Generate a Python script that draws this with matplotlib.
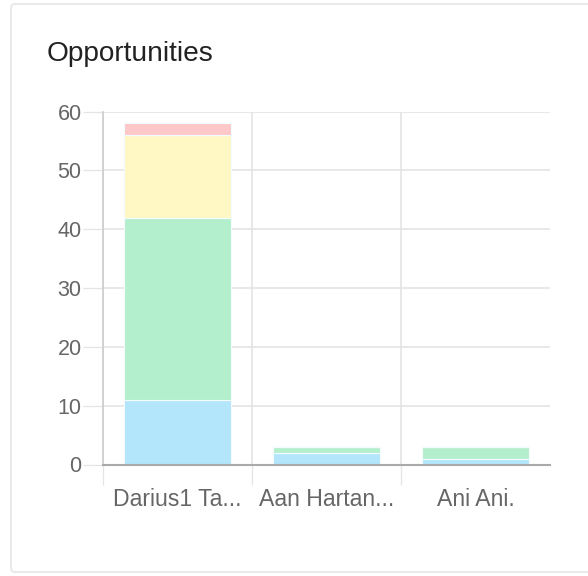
import matplotlib
matplotlib.use("Agg")
import matplotlib.pyplot as plt
from matplotlib.patches import FancyBboxPatch
import numpy as np

plt.rcParams['font.family'] = ['Liberation Sans', 'DejaVu Sans']

categories = ["Darius1 Ta...", "Aan Hartan...", "Ani Ani."]
series_blue = [11, 2, 1]
series_green = [31, 1, 2]
series_yellow = [14, 0, 0]
series_red = [2, 0, 0]
y_ticks = [0, 10, 20, 30, 40, 50, 60]

colors = ["#b3e5fb", "#b4efcd", "#fff8c5", "#ffc8c8"]
series = [series_blue, series_green, series_yellow, series_red]

W, H = 588, 576
fig = plt.figure(figsize=(W / 100, H / 100), dpi=100)
fig.patch.set_facecolor("white")

# card background
bg = fig.add_axes([0, 0, 1, 1], zorder=0)
bg.set_axis_off()
bg.set_xlim(0, W)
bg.set_ylim(H, 0)
card = FancyBboxPatch((11, 4), W + 20, 568,
                      boxstyle="round,pad=0,rounding_size=4",
                      facecolor="white", edgecolor="#e6e6e6", linewidth=1.2)
bg.add_patch(card)

fig.text(47 / W, 1 - 61 / H, "Opportunities", fontsize=20.2, color="#222222",
         ha="left", va="baseline", zorder=10)

left, right, top, bottom = 103, 550, 111.7, 464.5
ax = fig.add_axes([left / W, 1 - bottom / H, (right - left) / W, (bottom - top) / H],
                  zorder=5)
ax.set_facecolor("none")

x = np.arange(len(categories))
base = np.zeros(len(categories))
for vals, c in zip(series, colors):
    ax.bar(x, vals, width=0.72, bottom=base, color=c, edgecolor="#f4fbff",
           linewidth=0.8, zorder=2)
    base = base + np.array(vals)

ax.set_xlim(-0.5, len(categories) - 0.5)
ax.set_ylim(0, 60)
ax.set_yticks(y_ticks)
ax.set_yticklabels([str(v) for v in y_ticks])
ax.set_xticks(x)
ax.set_xticklabels(categories)
ax.set_xticks(np.arange(len(categories)) - 0.5, minor=True)

ax.grid(axis="y", color="#e4e4e4", linewidth=1.2, zorder=1)
ax.grid(axis="x", which="minor", color="#e4e4e4", linewidth=1.2, zorder=1)
ax.grid(axis="x", which="major", visible=False)
ax.set_axisbelow(True)

ax.tick_params(axis="y", length=14.4, width=0.9, color="#e4e4e4", pad=1,
               labelsize=15.5, labelcolor="#666666")
ax.tick_params(axis="x", which="major", length=0, pad=17, labelsize=16.6,
               labelcolor="#666666")
ax.tick_params(axis="x", which="minor", length=14.4, width=0.9, color="#e4e4e4")
ax.xaxis.get_minor_ticks()[0].tick1line.set_color("#cccccc")
ax.yaxis.get_major_ticks()[0].tick1line.set_color("#b0b0b0")

for s in ["top", "right"]:
    ax.spines[s].set_visible(False)
ax.spines["left"].set_color("#cccccc")
ax.spines["left"].set_linewidth(1.2)
ax.spines["bottom"].set_color("#aaaaaa")
ax.spines["bottom"].set_linewidth(1.5)
ax.spines["bottom"].set_zorder(3)

fig.savefig("out.png", dpi=100)
